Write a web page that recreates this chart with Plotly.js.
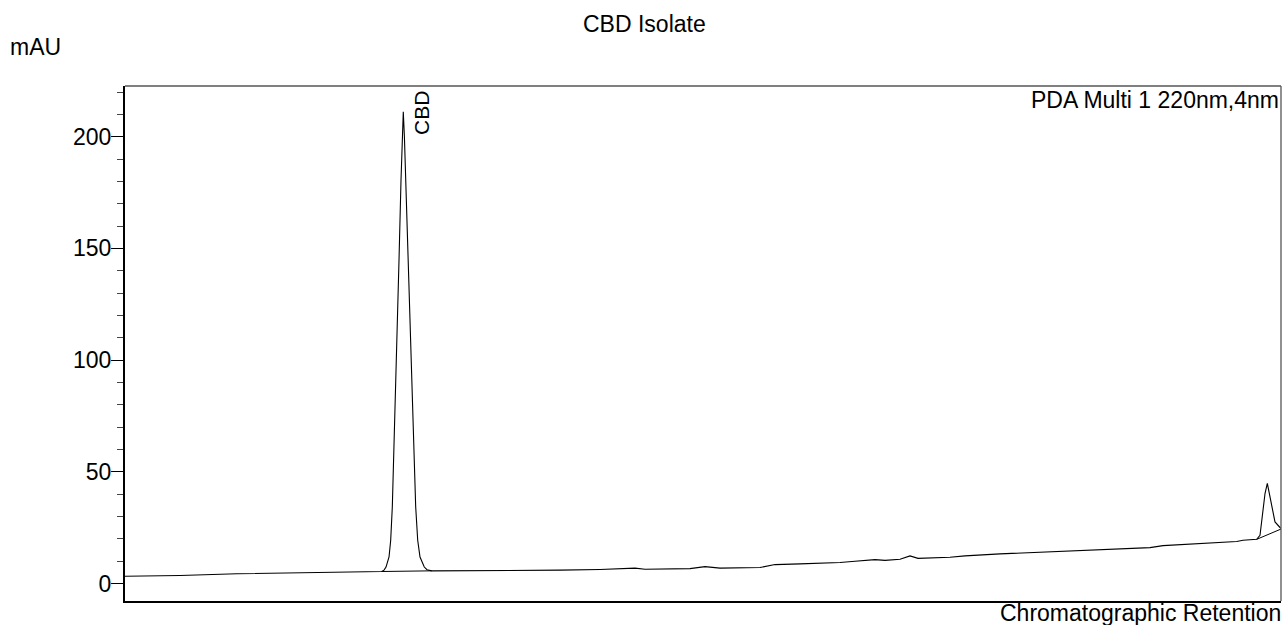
<!DOCTYPE html>
<html>
<head>
<meta charset="utf-8">
<script src="https://cdn.plot.ly/plotly-3.0.1.min.js"></script>
<style>html,body{margin:0;padding:0;background:#fff;}#chart{width:1287px;height:625px;}</style>
</head>
<body>
<div id="chart"></div>
<script>
// Retention time (min, arbitrary scale) and absorbance (mAU)
var retention = [
  0, 1.427, 2.907, 4.542, 6.540,
  6.662, 6.722, 6.774, 6.852, 6.895, 6.937, 6.989, 7.051, 7.111, 7.163, 7.196,
  7.222,
  7.251, 7.285, 7.344, 7.409, 7.482, 7.544, 7.596, 7.656, 7.767, 7.837, 7.959,
  9.732, 11.289, 12.327, 12.846, 13.235, 13.495, 14.663, 15.052, 15.441, 16.479,
  16.869, 17.517, 18.556, 18.945, 19.464, 19.723, 20.113, 20.372, 20.580, 21.410,
  21.799, 22.708, 24.180, 25.043, 25.303, 26.600, 26.938, 27.898, 28.850, 29.014,
  29.369, 29.455, 29.525, 29.585, 29.645, 29.689, 29.758, 29.844, 29.974, 30.0
];
var absorbance = [
  3.3, 3.6, 4.4, 4.8, 5.2,
  5.4, 6.0, 7.4, 11.9, 19.4, 34.3, 64.2, 110, 144.8, 180.6, 200,
  211.2,
  200, 180.6, 144.8, 110, 64.2, 34.3, 19.4, 11.9, 7.4, 6.2, 5.7,
  5.8, 6.0, 6.3, 6.5, 6.9, 6.4, 6.7, 7.6, 6.9, 7.2,
  8.5, 8.8, 9.4, 10.0, 10.7, 10.4, 10.9, 12.4, 11.3, 11.8,
  12.4, 13.3, 14.3, 14.8, 15.2, 16.1, 17.0, 17.8, 18.8, 19.4,
  19.8, 21.6, 31.3, 40.3, 44.8, 41.0, 34.3, 27.6, 25.1, 24.7
];
// integration baselines drawn under detected peaks
var base1X = [6.662, 7.959];
var base1Y = [5.4, 5.7];
var base2X = [29.369, 30.0];
var base2Y = [19.8, 24.4];

var peakName = "CBD";
var peakX = 7.222;
var peakY = 211.2;

var yTicks = [0, 50, 100, 150, 200];

var FONT = "Liberation Sans, Arial, sans-serif";

var traces = [
  {x: retention, y: absorbance, mode: "lines", line: {color: "#000", width: 1.1}, hoverinfo: "skip", showlegend: false},
  {x: base1X, y: base1Y, mode: "lines", line: {color: "#000", width: 1}, hoverinfo: "skip", showlegend: false},
  {x: base2X, y: base2Y, mode: "lines", line: {color: "#000", width: 1}, hoverinfo: "skip", showlegend: false}
];

var layout = {
  width: 1287, height: 625,
  margin: {l: 125, r: 6, t: 86, b: 24, pad: 0},
  paper_bgcolor: "#fff", plot_bgcolor: "#fff",
  font: {family: FONT, size: 23, color: "#000"},
  showlegend: false,
  xaxis: {
    range: [0, 30], showgrid: false, zeroline: false,
    showticklabels: false, ticks: "",
    showline: true, linecolor: "#000", linewidth: 2
  },
  yaxis: {
    range: [-7.8, 222.7], showgrid: false, zeroline: false,
    tickmode: "array", tickvals: yTicks, ticktext: yTicks.map(String),
    ticks: "outside", ticklen: 12, tickwidth: 1, tickcolor: "#000",
    ticklabelstandoff: -5,
    tickfont: {family: FONT, size: 23, color: "#000"},
    showline: true, linecolor: "#000", linewidth: 2,
    minor: {dtick: 10, tick0: 0, ticks: "outside", ticklen: 6, tickwidth: 1, tickcolor: "#444", showgrid: false}
  },
  shapes: [
    {type: "line", xref: "paper", yref: "paper", x0: 0, x1: 1, y0: 1, y1: 1, line: {color: "#555", width: 1.3}},
    {type: "line", xref: "paper", yref: "paper", x0: 1, x1: 1, y0: 0, y1: 1, line: {color: "#555", width: 1.3}}
  ],
  annotations: [
    {text: "CBD Isolate", xref: "paper", yref: "paper", x: 0.4496, y: 1, yshift: 62, xanchor: "center", yanchor: "middle", showarrow: false, font: {family: FONT, size: 23}},
    {text: "mAU", xref: "paper", yref: "paper", x: 0, xshift: -117, y: 1, yshift: 39, xanchor: "left", yanchor: "middle", showarrow: false, font: {family: FONT, size: 23}},
    {text: "PDA Multi 1 220nm,4nm", xref: "paper", yref: "paper", x: 1, y: 1, xanchor: "right", yanchor: "top", xshift: 0, yshift: 1, showarrow: false, font: {family: FONT, size: 23}},
    {text: "Chromatographic Retention", xref: "paper", yref: "paper", x: 1, y: 0, xanchor: "right", yanchor: "middle", xshift: 2, yshift: -12, showarrow: false, font: {family: FONT, size: 23}},
    {text: peakName, x: peakX, y: peakY, xref: "x", yref: "y", textangle: -90, xanchor: "center", yanchor: "middle", xshift: 18, yshift: -1, showarrow: false, font: {family: FONT, size: 21}}
  ]
};

Plotly.newPlot("chart", traces, layout, {staticPlot: true, displayModeBar: false});
</script>
</body>
</html>
